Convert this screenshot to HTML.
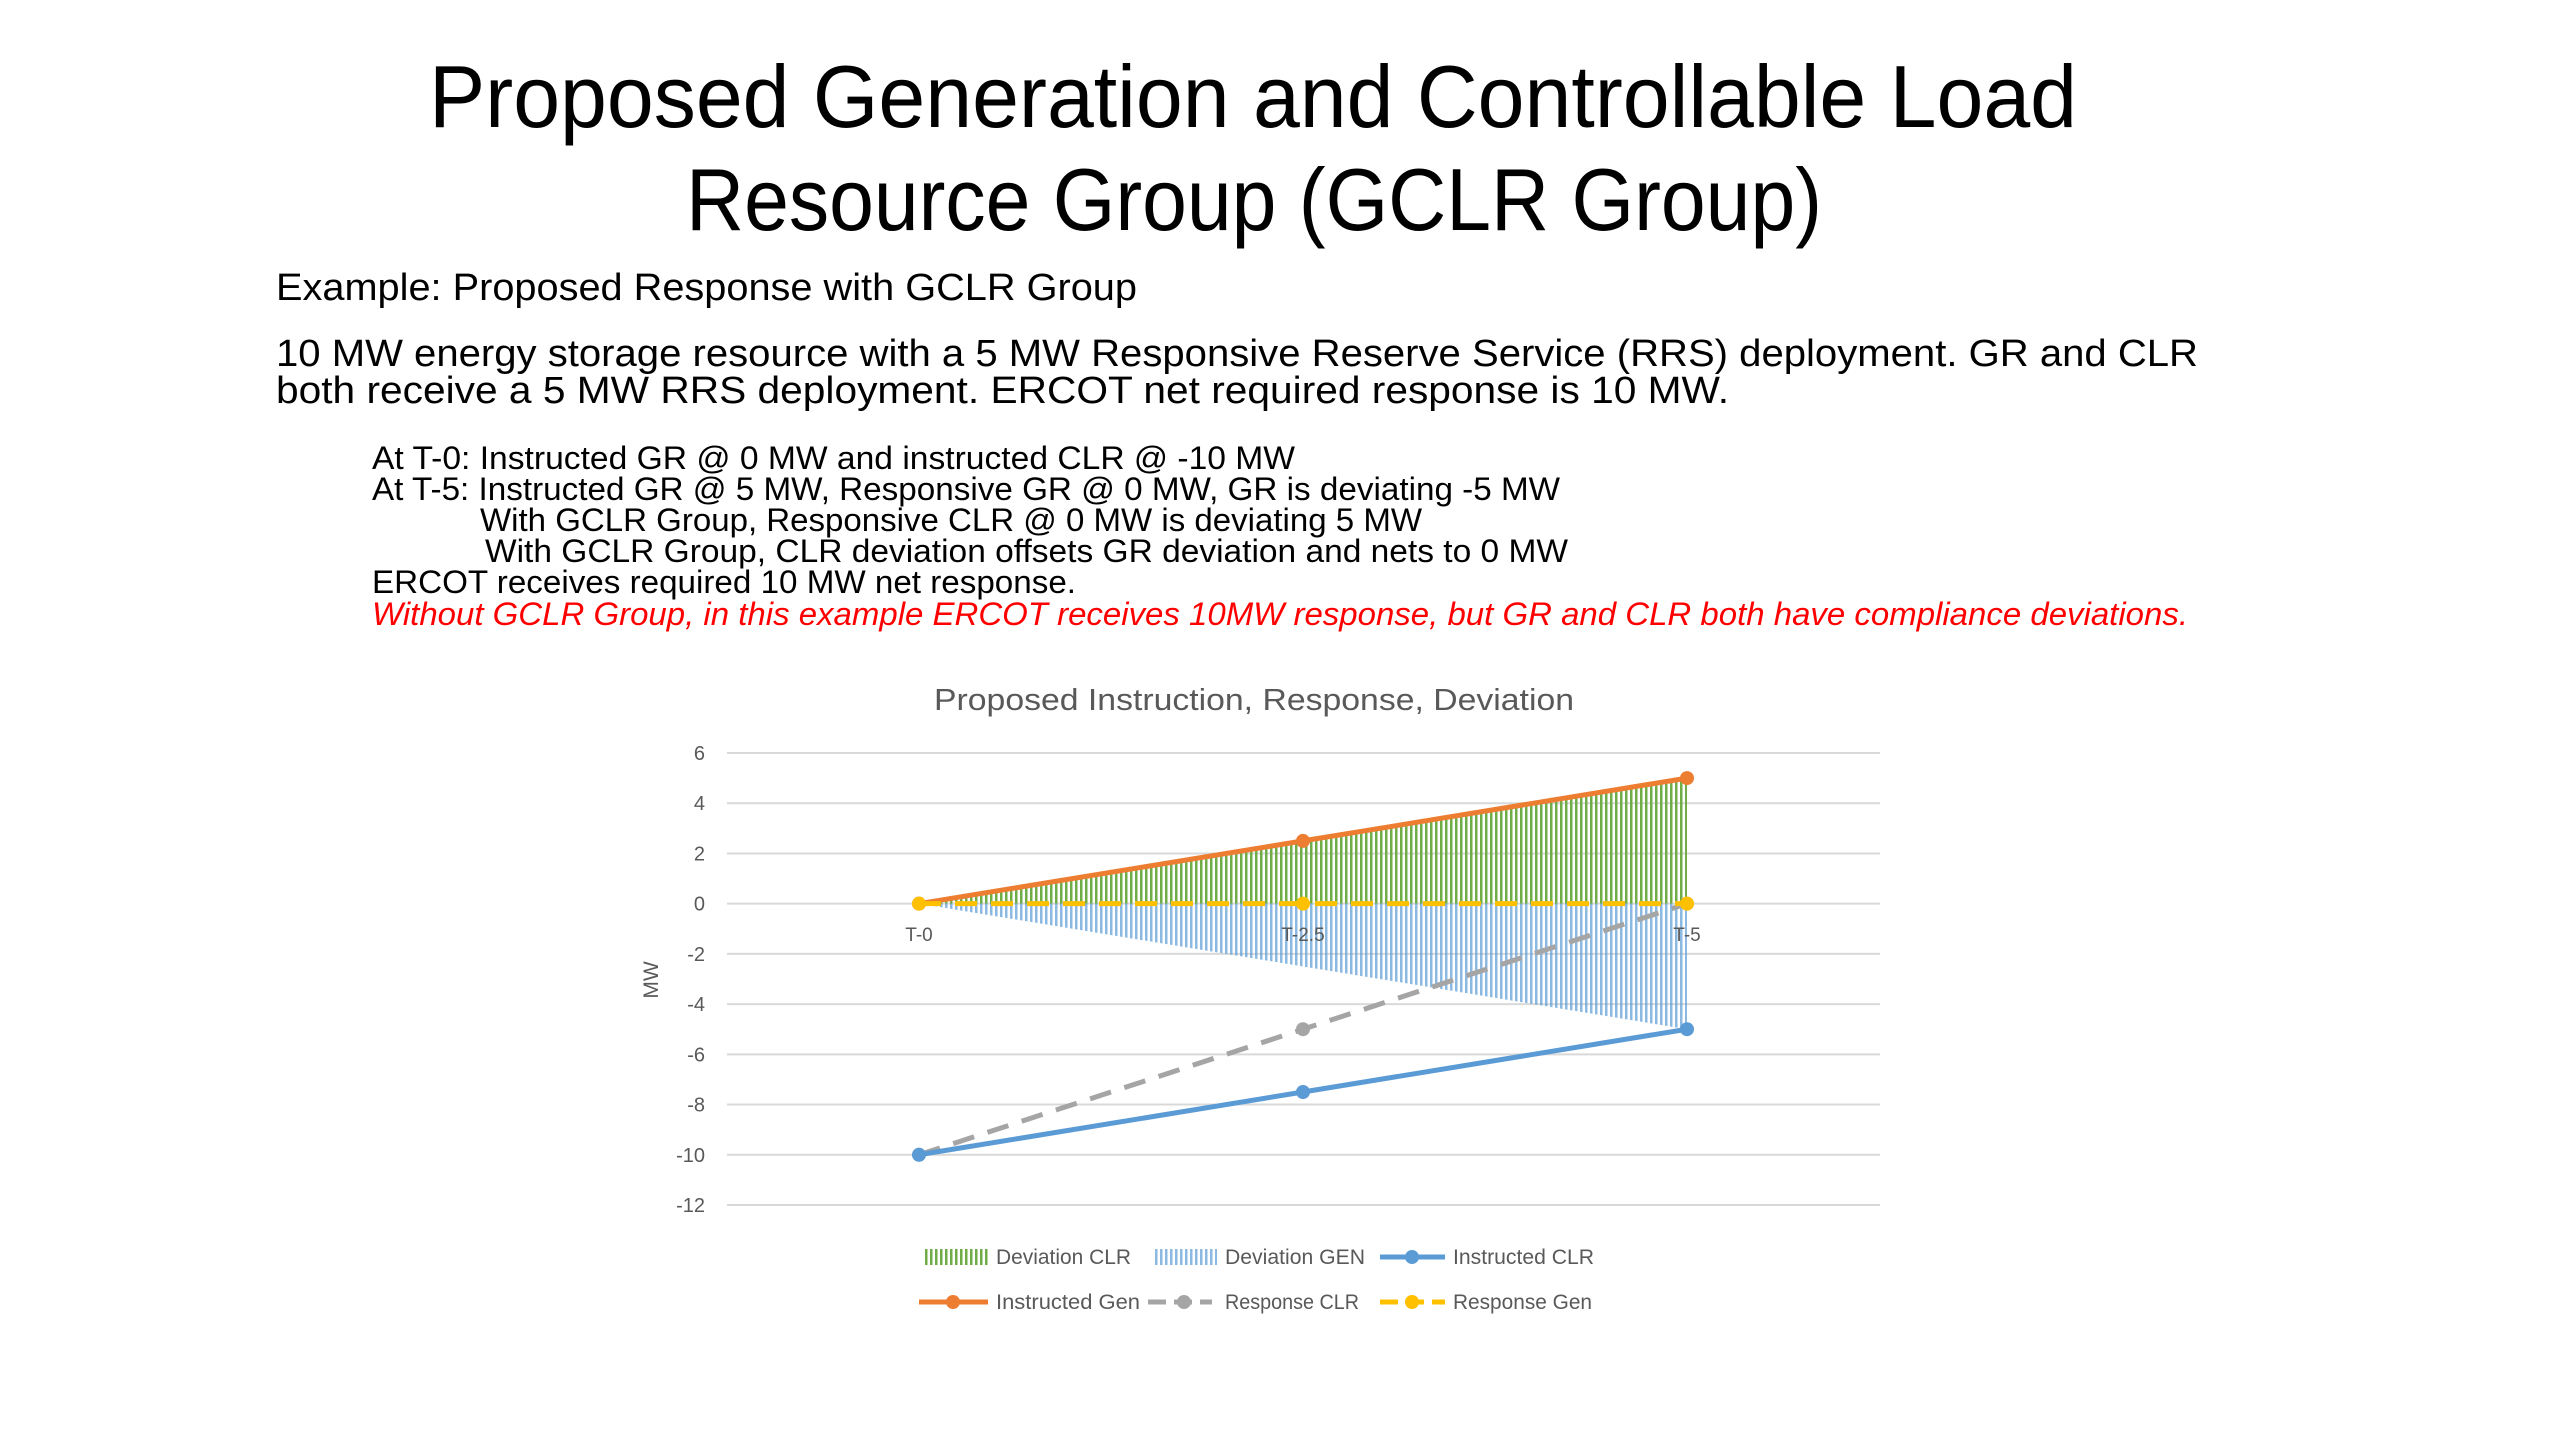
<!DOCTYPE html>
<html><head><meta charset="utf-8"><style>
html,body{margin:0;padding:0;background:#fff;}
svg{display:block;}
text{font-family:"Liberation Sans",sans-serif;}
</style></head><body>
<svg id="page" width="2560" height="1440" viewBox="0 0 2560 1440" xmlns="http://www.w3.org/2000/svg">
<defs>
<pattern id="pg" width="5" height="10" patternUnits="userSpaceOnUse"><rect x="0" y="0" width="2.5" height="10" fill="#70ad47"/></pattern>
<pattern id="pb" width="5" height="10" patternUnits="userSpaceOnUse"><rect x="0" y="0" width="2.5" height="10" fill="#5b9bd5"/></pattern>
</defs>
<g font-size="88" fill="#000">
<text x="429" y="127" textLength="1648" lengthAdjust="spacingAndGlyphs">Proposed Generation and Controllable Load</text>
<text x="686" y="230" textLength="1136" lengthAdjust="spacingAndGlyphs">Resource Group (GCLR Group)</text>
</g>
<text x="276" y="300" font-size="38" textLength="861" lengthAdjust="spacingAndGlyphs">Example: Proposed Response with GCLR Group</text>
<g font-size="38">
<text x="276" y="366" textLength="1922" lengthAdjust="spacingAndGlyphs">10 MW energy storage resource with a 5 MW Responsive Reserve Service (RRS) deployment. GR and CLR</text>
<text x="276" y="403" textLength="1453" lengthAdjust="spacingAndGlyphs">both receive a 5 MW RRS deployment.  ERCOT net required response is 10 MW.</text>
</g>
<g font-size="32">
<text x="372" y="469" textLength="923" lengthAdjust="spacingAndGlyphs">At T-0: Instructed GR @ 0 MW and instructed CLR @ -10 MW</text>
<text x="372" y="500" textLength="1188" lengthAdjust="spacingAndGlyphs">At T-5: Instructed GR @ 5 MW, Responsive GR @ 0 MW, GR is deviating -5 MW</text>
<text x="480" y="531" textLength="942" lengthAdjust="spacingAndGlyphs">With GCLR Group, Responsive CLR @ 0 MW is deviating 5 MW</text>
<text x="485" y="562" textLength="1083" lengthAdjust="spacingAndGlyphs">With GCLR Group, CLR deviation offsets GR deviation and nets to 0 MW</text>
<text x="372" y="593" textLength="704" lengthAdjust="spacingAndGlyphs">ERCOT receives required 10 MW net response.</text>
<text x="372" y="625" fill="#ff0000" font-style="italic" textLength="1816" lengthAdjust="spacingAndGlyphs">Without GCLR Group, in this example ERCOT receives 10MW response, but GR and CLR both have compliance deviations.</text>
</g>
<text x="1254" y="710" font-size="31" fill="#595959" text-anchor="middle" textLength="640" lengthAdjust="spacingAndGlyphs">Proposed Instruction, Response, Deviation</text>
<text transform="translate(658,980) rotate(-90)" font-size="21" fill="#595959" text-anchor="middle">MW</text>
<g id="grid"></g><g id="yticks"></g><g id="areas"></g><g id="xticks"></g><g id="lines"></g>
<g font-size="21" fill="#595959">
<rect x="923" y="1249" width="65" height="16" fill="url(#pg)"/>
<text x="996" y="1264" textLength="135" lengthAdjust="spacingAndGlyphs">Deviation CLR</text>
<rect x="1153" y="1249" width="64" height="16" fill="url(#pb)" opacity="0.7"/>
<text x="1225" y="1264" textLength="140" lengthAdjust="spacingAndGlyphs">Deviation GEN</text>
<line x1="1380" y1="1257" x2="1445" y2="1257" stroke="#5b9bd5" stroke-width="5"/><circle cx="1412" cy="1257" r="7" fill="#5b9bd5"/>
<text x="1453" y="1264" textLength="141" lengthAdjust="spacingAndGlyphs">Instructed CLR</text>
<line x1="919" y1="1302" x2="988" y2="1302" stroke="#ed7d31" stroke-width="5"/><circle cx="953" cy="1302" r="7" fill="#ed7d31"/>
<text x="996" y="1309" textLength="144" lengthAdjust="spacingAndGlyphs">Instructed Gen</text>
<line x1="1148" y1="1302" x2="1212" y2="1302" stroke="#a5a5a5" stroke-width="5" stroke-dasharray="18,8"/><circle cx="1184" cy="1302" r="7" fill="#a5a5a5"/>
<text x="1225" y="1309" textLength="134" lengthAdjust="spacingAndGlyphs">Response CLR</text>
<line x1="1380" y1="1302" x2="1445" y2="1302" stroke="#ffc000" stroke-width="5" stroke-dasharray="18,8"/><circle cx="1412" cy="1302" r="7" fill="#ffc000"/>
<text x="1453" y="1309" textLength="139" lengthAdjust="spacingAndGlyphs">Response Gen</text>
</g>
</svg>
<script>
const categories = ["T-0", "T-2.5", "T-5"];
const yTicks = [6, 4, 2, 0, -2, -4, -6, -8, -10, -12];
const deviationCLR = [0, 2.5, 5];
const deviationGEN = [0, -2.5, -5];
const instructedCLR = [-10, -7.5, -5];
const instructedGen = [0, 2.5, 5];
const responseCLR = [-10, -5, 0];
const responseGen = [0, 0, 0];

const NS = "http://www.w3.org/2000/svg";
const yMin = -12, yMax = 6, pyTop = 753, pyBot = 1205;
const x0 = 919, x1 = 1687, gridL = 727, gridR = 1880;
function y(v){ return pyBot - (v - yMin) / (yMax - yMin) * (pyBot - pyTop); }
function x(i){ return x0 + i * (x1 - x0) / (categories.length - 1); }
function mk(tag, attrs, parent){ const e = document.createElementNS(NS, tag); for (const k in attrs) e.setAttribute(k, attrs[k]); parent.appendChild(e); return e; }

const grid = document.getElementById('grid');
const yt = document.getElementById('yticks');
yTicks.forEach(v => {
  const l = mk('line', {x1: gridL, x2: gridR, y1: y(v), y2: y(v), stroke: '#d9d9d9', 'stroke-width': 2}, grid);
  
  
  const t = mk('text', {x: 705, y: y(v) + 7, 'font-size': 20, fill: '#595959', 'text-anchor': 'end'}, yt);
  
  
  t.textContent = v;
});

const areas = document.getElementById('areas');
function area(vals, fill, name, op){
  let d = 'M' + x(0) + ',' + y(0);
  vals.forEach((v, i) => d += ' L' + x(i) + ',' + y(v));
  d += ' L' + x(vals.length - 1) + ',' + y(0) + ' Z';
  const p = mk('path', {d: d, fill: fill, opacity: op}, areas);
  
  
}
area(deviationCLR, 'url(#pg)', 'area-deviation-clr', 1);
area(deviationGEN, 'url(#pb)', 'area-deviation-gen', 0.7);

const xt = document.getElementById('xticks');
categories.forEach((c, i) => {
  const t = mk('text', {x: x(i), y: 941, 'font-size': 19, fill: '#595959', 'text-anchor': 'middle'}, xt);
  
  
  t.textContent = c;
});

const lines = document.getElementById('lines');
function series(vals, color, dash, name){
  const g = mk('g', {}, lines);
  
  
  const pts = vals.map((v, i) => x(i) + ',' + y(v)).join(' ');
  const a = {points: pts, fill: 'none', stroke: color, 'stroke-width': 5};
  if (dash) a['stroke-dasharray'] = dash;
  mk('polyline', a, g);
  vals.forEach((v, i) => {
    const c = mk('circle', {cx: x(i), cy: y(v), r: 7, fill: color}, g);
    
    
  });
}
series(responseCLR, '#a5a5a5', '22,14', 'line-response-clr');
series(instructedCLR, '#5b9bd5', null, 'line-instructed-clr');
series(instructedGen, '#ed7d31', null, 'line-instructed-gen');
series(responseGen, '#ffc000', '22,14', 'line-response-gen');
</script>
</body></html>
